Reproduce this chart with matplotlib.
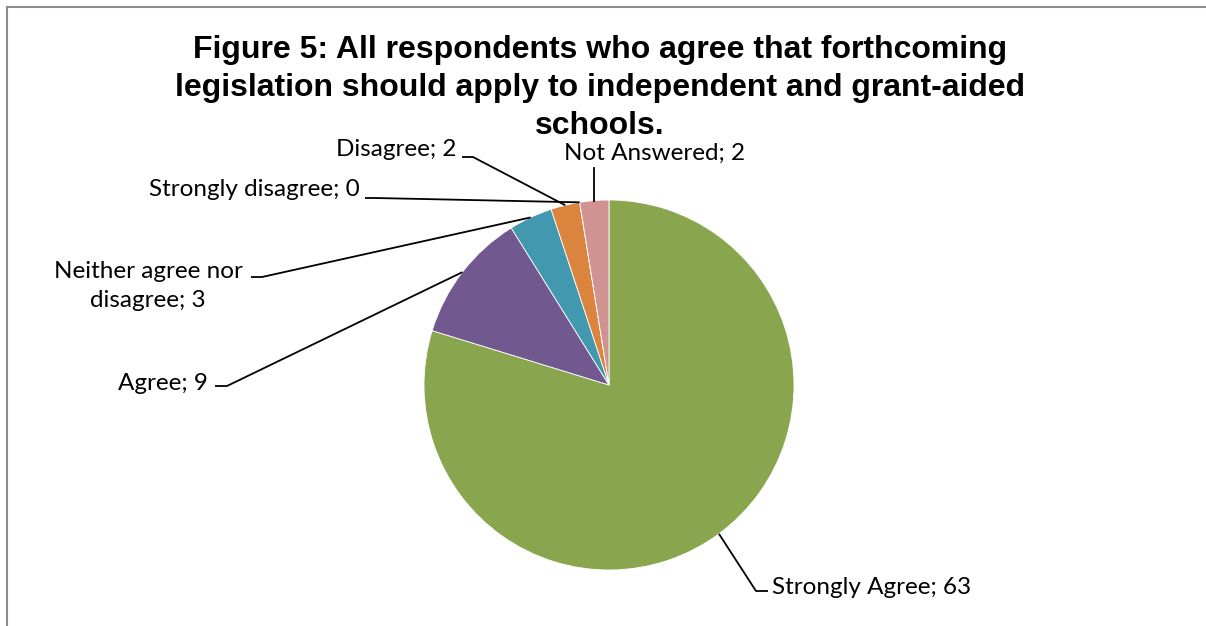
import numpy as np
import matplotlib
matplotlib.use("Agg")
import matplotlib.pyplot as plt

# Survey responses
categories = ["Strongly Agree", "Agree", "Neither agree nor disagree",
              "Disagree", "Strongly disagree", "Not Answered"]
values = [63, 9, 3, 2, 0, 2]
colors = ["#89A54E", "#71588F", "#4198AF", "#DB843D", "#A47D7C", "#D19392"]

title = ("Figure 5: All respondents who agree that forthcoming\n"
         "legislation should apply to independent and grant-aided\n"
         "schools.")

W, H = 1206, 626
fig = plt.figure(figsize=(W / 100, H / 100), dpi=100)
ax = fig.add_axes([0, 0, 1, 1])


def Y(py):
    return H - py


cx, cy, r = 609, Y(385), 185
wedges, _ = ax.pie(values, startangle=90, counterclock=False,
                   center=(cx, cy), radius=r, colors=colors,
                   wedgeprops=dict(edgecolor="white", linewidth=0.6))
ax.set_xlim(0, W)
ax.set_ylim(0, H)
ax.set_aspect("equal")
ax.axis("off")


def anchor(i):
    w = wedges[i]
    mid = np.deg2rad((w.theta1 + w.theta2) / 2)
    return cx + r * np.cos(mid), cy + r * np.sin(mid)


label_font = dict(family="Lato", size=17.5, color="black")
lw = 1.3

# label text (text, x, y, ha) and elbow path leading to the slice
labels = {
    0: dict(text="Strongly Agree; 63", x=772, y=587, ha="left",
            elbow=[(768, 591), (756, 591)]),
    1: dict(text="Agree; 9", x=208, y=383, ha="right",
            elbow=[(215, 386), (227, 386)]),
    2: dict(text="Neither agree nor\ndisagree; 3", x=148, y=286, ha="center",
            elbow=[(251, 277), (262, 277)]),
    3: dict(text="Disagree; 2", x=457, y=150, ha="right",
            elbow=[(462, 157), (473, 157)]),
    4: dict(text="Strongly disagree; 0", x=360, y=190, ha="right",
            elbow=[(365, 198), (375, 198)]),
}

for i, spec in labels.items():
    ax.text(spec["x"], Y(spec["y"]), spec["text"], ha=spec["ha"], va="center",
            multialignment="center", linespacing=1.42, **label_font)
    ax0, ay0 = anchor(i)
    pts = [(px, Y(py)) for px, py in spec["elbow"]] + [(ax0, ay0)]
    xs, ys = zip(*pts)
    ax.plot(xs, ys, color="black", lw=lw, solid_capstyle="butt")

# Not Answered: label above the pie with a vertical leader
ax.text(655, Y(153), "Not Answered; 2", ha="center", va="center", **label_font)
nx, ny = anchor(5)
ax.plot([nx, nx], [Y(168), ny], color="black", lw=lw)

ax.text(600, Y(88), title, ha="center", va="center", family="Liberation Sans",
        fontweight="bold", size=23, linespacing=1.34)

# chart frame
ax.plot([7, W], [Y(7), Y(7)], color="#8C8C8C", lw=1.5, clip_on=False)
ax.plot([7, 7], [Y(7), 0], color="#8C8C8C", lw=1.5, clip_on=False)

fig.savefig("out.png", dpi=100, facecolor="white")
